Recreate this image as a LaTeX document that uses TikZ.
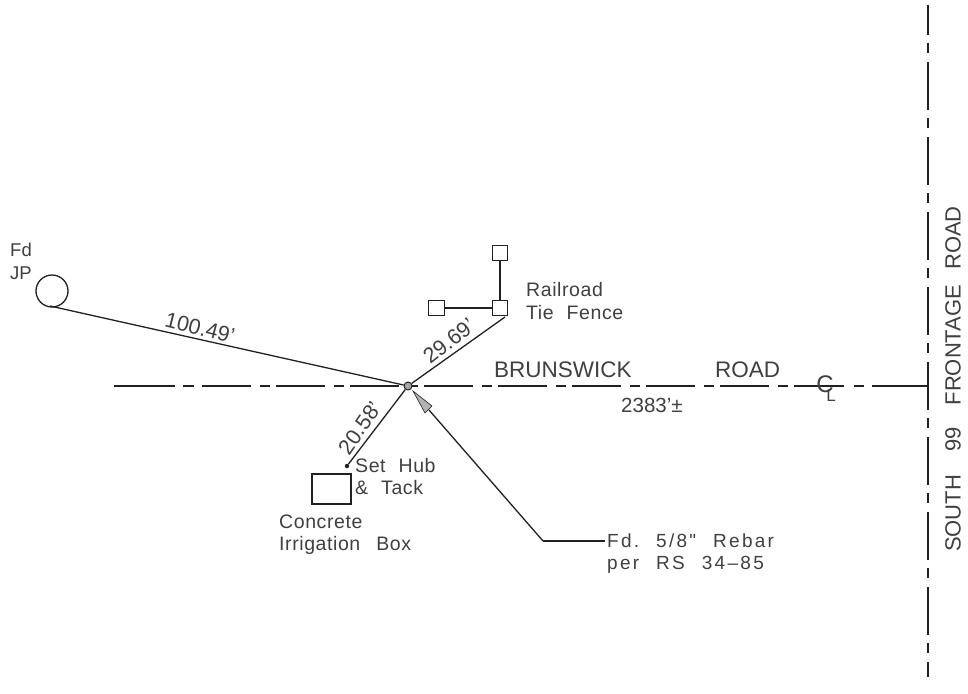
\documentclass[tikz,border=0pt]{standalone}
\usepackage{fontspec}
\setmainfont{Liberation Sans}
\newfontfamily\wideface[LetterSpace=3]{Liberation Sans}
\newfontfamily\widerface[LetterSpace=12]{Liberation Sans}
\usetikzlibrary{arrows.meta}
\definecolor{ink}{gray}{0.13}
\definecolor{txt}{gray}{0.25}
\newcommand{\wsp}{\hspace{17pt}}
\tikzset{
 lab/.style={inner sep=0pt,text=txt,font=\wideface\fontsize{19.5}{22}\selectfont,align=left},
 widelab/.style={inner sep=0pt,text=txt,font=\widerface\fontsize{19}{22}\selectfont,align=left},
 biglab/.style={inner sep=0pt,text=txt,font=\fontsize{22.5}{26}\selectfont},
 dim/.style={inner sep=0pt,text=txt,font=\fontsize{21.5}{24}\selectfont},
 post/.style={draw=ink,line width=1.2pt,minimum size=15pt,inner sep=0pt,fill=white},
 wire/.style={draw=ink,line width=1.3pt},
 thinline/.style={draw=ink,line width=1.1pt},
 center/.style={thinline,dash pattern=on 49pt off 9pt on 10pt off 6pt},
 edge/.style={draw=ink,line width=1.3pt,dash pattern=on 48pt off 8pt on 10pt off 9pt},
}
\begin{document}
\begin{tikzpicture}[x=1pt,y=-1pt]
\useasboundingbox[fill=white] (0,0) rectangle (968,693);
% centre line
\coordinate (cw) at (114,386); \coordinate (cw2) at (175,386);
\coordinate (cw3) at (183,386); \coordinate (cw4) at (194,386);
\coordinate (cs) at (202,386); \coordinate (ce) at (928,386);
\draw[thinline] (cw)--(cw2) (cw3)--(cw4);
\draw[center] (cs)--(794,386) coordinate (cm);
\draw[thinline] (cm)--(844,386) coordinate (c1) (854,386) coordinate (c2)--(864,386) coordinate (c3) (872,386) coordinate (c4)--(ce);
% frontage line
\coordinate (f0) at (928,5); \coordinate (f1) at (928,35);
\coordinate (f2) at (928,43); \coordinate (f3) at (928,53);
\coordinate (f4) at (928,62); \coordinate (f5) at (928,677);
\draw[wire] (f0)--(f1) (f2)--(f3);
\draw[edge] (f4)--(f5);
% nodes
\node[circle,draw=ink,line width=1.3pt,minimum size=32pt,inner sep=0pt] (jp) at (52,291) {};
\node[circle,draw=ink,fill=gray!70,line width=1pt,minimum size=8pt,inner sep=0pt] (hub) at (408,386) {};
\node[post] (pt) at (500,253) {};
\node[post] (pc) at (500,308) {};
\node[post,minimum size=15.5pt] (pl) at (436.5,308) {};
\node[circle,fill=ink,minimum size=4.5pt,inner sep=0pt] (tack) at (347,466) {};
\node[draw=ink,line width=1.3pt,minimum width=39pt,minimum height=30pt,inner sep=0pt] (box) at (331.5,489) {};
% connectors
\coordinate (jpb) at (50,306);
\coordinate (pcb) at (505,317);
\draw[wire] (jpb)--(hub);
\draw[wire] (hub)--(pcb);
\draw[wire] (hub)--(tack);
\draw[wire] (pt)--(pc);
\draw[wire] (pl)--(pc);
\coordinate (tip) at (413,391);
\coordinate (k1) at (543,541);
\coordinate (k2) at (605,541);
\draw[thinline] (k2)--(k1);
\draw[wire] (k1)--(429,410) coordinate (hd);
\draw[draw=ink,line width=.6pt,fill=gray!60] (tip)--(432,406)--(425,413)--cycle;
% labels
\node[inner sep=0pt,text=txt,font=\fontsize{18.5}{22}\selectfont,anchor=west] (fd) at (10,250) {Fd};
\node[inner sep=0pt,text=txt,font=\fontsize{18.5}{22}\selectfont,anchor=west] (jl) at (10,273) {JP};
\node[dim,rotate=-14] (d1) at (200,328) {100.49'};
\node[dim,rotate=38] (d2) at (449,341) {29.69'};
\node[dim,rotate=55] (d3) at (360,428) {20.58'};
\node[lab,anchor=west] (rr) at (526,290) {Railroad};
\node[lab,anchor=west] (tf) at (526,313) {Tie\hspace{13pt}Fence};
\node[biglab,anchor=west] (br) at (494,370) {BRUNSWICK};
\node[biglab,anchor=west] (rd) at (715,370) {ROAD};
\node[inner sep=0pt,text=txt,font=\fontsize{20.5}{24}\selectfont,anchor=west] (ln) at (621,405) {2383'±};
\node[lab,anchor=west] (sh) at (355,466) {Set\hspace{13pt}Hub};
\node[lab,anchor=west] (tk) at (355,488) {\&\hspace{13pt}Tack};
\node[lab,anchor=west] (cc) at (279,522) {Concrete};
\node[lab,anchor=west] (ib) at (279,545) {Irrigation\hspace{16pt}Box};
\node[widelab,anchor=west] (rb) at (607,541) {Fd.\wsp 5/8"\wsp Rebar};
\node[widelab,anchor=west] (rs) at (607,565) {per\wsp RS\wsp 34–85};
\node[inner sep=0pt,text=txt,font=\fontsize{24}{26}\selectfont] (cl) at (825,384) {C};
\node[inner sep=0pt,text=txt,font=\fontsize{17}{20}\selectfont] (cl2) at (831,396) {L};
\node[inner sep=0pt,text=txt,font=\fontsize{22}{26}\selectfont,rotate=90,anchor=west] (sr) at (953,552) {SOUTH\hspace{23pt}99\hspace{22pt}FRONTAGE\hspace{15pt}ROAD};
\end{tikzpicture}
\end{document}
